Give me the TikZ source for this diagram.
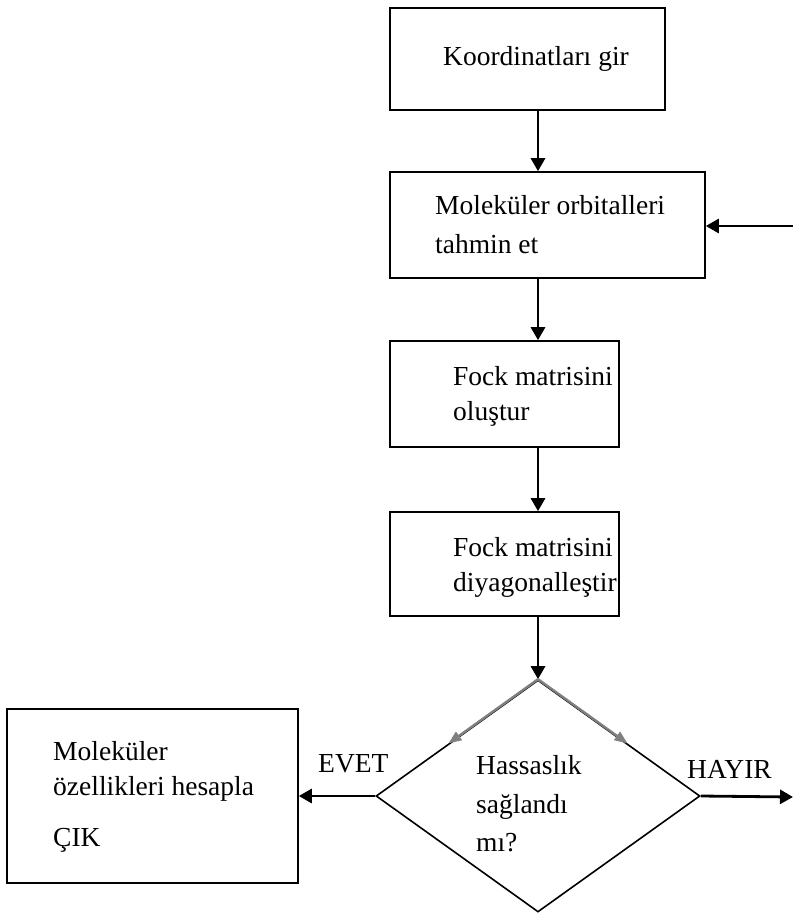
\documentclass[tikz,border=0pt]{standalone}
\usepackage{fontspec}
\setmainfont{Liberation Serif}
\usetikzlibrary{arrows.meta,shapes.geometric,calc}
\begin{document}
\begin{tikzpicture}[x=1pt,y=-1pt,
  box/.style={draw,line width=1.6pt,inner sep=0pt,rectangle},
  txt/.style={anchor=base west,inner sep=0pt,font=\fontsize{27.5}{32}\selectfont},
  arr/.style={line width=2.8pt,-{Triangle[length=13pt,width=14pt]}},
  garr/.style={line width=2.4pt,draw=black!50,-{Triangle[length=13pt,width=10pt]},color=black!50}]
\useasboundingbox (0,0) rectangle (793,918);
% boxes
\node[box,minimum width=275pt,minimum height=102pt] (b1) at (527.5,59) {};
\node[box,minimum width=315pt,minimum height=106pt] (b2) at (547.5,225) {};
\node[box,minimum width=229pt,minimum height=106pt] (b3) at (504.5,394) {};
\node[box,minimum width=229pt,minimum height=104pt] (b4) at (504.5,564) {};
\node[box,minimum width=291pt,minimum height=174pt] (b5) at (152.5,796) {};
\node[draw,line width=1.6pt,diamond,inner sep=0pt,minimum width=324pt,minimum height=232pt] (d) at (538,796) {};
% texts
\node[txt] (t1) at (443,65) {Koordinatları gir};
\node[txt] (t2a) at (435,214) {Moleküler orbitalleri};
\node[txt] (t2b) at (435,253) {tahmin et};
\node[txt] (t3a) at (453,385) {Fock matrisini};
\node[txt] (t3b) at (453,420) {oluştur};
\node[txt] (t4a) at (453,556) {Fock matrisini};
\node[txt] (t4b) at (453,591) {diyagonalleştir};
\node[txt] (t5a) at (476,774) {Hassaslık};
\node[txt] (t5b) at (476,813) {sağlandı};
\node[txt] (t5c) at (476,851) {mı?};
\node[txt] (evet) at (318,772) {EVET};
\node[txt] (hayir) at (687,778) {HAYIR};
\node[txt] (t6a) at (53,760) {Moleküler};
\node[txt] (t6b) at (53,795) {özellikleri hesapla};
\node[txt] (t6c) at (53,846) {ÇIK};
% free ends
\coordinate (inR) at (793,226);
\coordinate (outR) at (793,797);
% connectors
\draw[arr] (b1.south -| d.north) -- (b2.north -| d.north);
\draw[arr] (b2.south -| d.north) -- (b3.north -| d.north);
\draw[arr] (b3.south -| d.north) -- (b4.north -| d.north);
\draw[arr] (b4.south -| d.north) -- (d.north);
\draw[arr] (inR) -- (inR -| b2.east);
\draw[arr] (d.west) -- (d.west -| b5.east);
\draw[arr] (d.east) -- (outR);
\draw[garr] (d.north) -- ($(d.north)!0.55!(d.west)$);
\draw[garr] (d.north) -- ($(d.north)!0.55!(d.east)$);
\end{tikzpicture}
\end{document}
